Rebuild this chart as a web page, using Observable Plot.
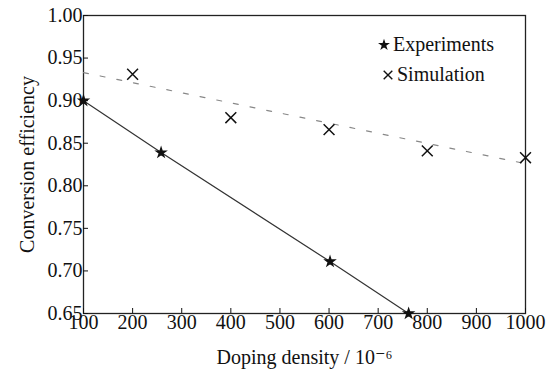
<!DOCTYPE html>
<html>
<head>
<meta charset="utf-8">
<script src="https://cdn.jsdelivr.net/npm/d3@7"></script>
<script src="https://cdn.jsdelivr.net/npm/@observablehq/plot@0.6"></script>
<style>
  html, body { margin: 0; padding: 0; background: #fff; }
  #wrap { position: relative; width: 547px; height: 376px; }
  #legend { position: absolute; left: 377px; top: 29px; font-family: "Liberation Serif", "DejaVu Serif", serif; font-size: 20px; color: #111; line-height: 30px; }
  #legend div { display: flex; align-items: center; }
  #legend svg { margin-right: 2px; }
</style>
</head>
<body>
<div id="wrap"><div id="chart"></div><div id="legend"></div></div>
<script>
// Data
const expX = [100, 258, 602, 762];
const expY = [0.900, 0.839, 0.711, 0.650];
const simX = [200, 400, 600, 800, 1000];
const simY = [0.931, 0.880, 0.866, 0.841, 0.833];
const fitX = [100, 1000];
const fitY = [0.933, 0.826];
const xTicks = [100, 200, 300, 400, 500, 600, 700, 800, 900, 1000];
const yTicks = [0.65, 0.70, 0.75, 0.80, 0.85, 0.90, 0.95, 1.00];

const experiments = expX.map((x, i) => ({x, y: expY[i]}));
const simulation = simX.map((x, i) => ({x, y: simY[i]}));
const fit = fitX.map((x, i) => ({x, y: fitY[i]}));

const plot = Plot.plot({
  width: 547,
  height: 376,
  marginLeft: 83,
  marginRight: 22,
  marginTop: 15,
  marginBottom: 63,
  style: {fontFamily: "'Liberation Serif', 'DejaVu Serif', serif", fontSize: "20px", color: "#111", background: "#fff"},
  x: {domain: [100, 1000]},
  y: {domain: [0.65, 1.00]},
  marks: [
    Plot.frame({stroke: "#222", strokeWidth: 1.3}),
    Plot.axisX({ticks: xTicks, tickFormat: d => String(d), tickSize: -5, tickPadding: 6,
      label: "Doping density / 10⁻⁶", labelAnchor: "center", labelArrow: "none", labelOffset: 50, fontSize: 20}),
    Plot.axisY({ticks: yTicks, tickFormat: d => d.toFixed(2), tickSize: -5, tickPadding: 6,
      label: "Conversion efficiency", labelAnchor: "center", labelArrow: "none", labelOffset: 64, fontSize: 20}),
    Plot.line(fit, {x: "x", y: "y", stroke: "#888", strokeWidth: 1.2, strokeDasharray: "5,12"}),
    Plot.line(experiments, {x: "x", y: "y", stroke: "#333", strokeWidth: 1.2}),
    Plot.dot(experiments, {x: "x", y: "y", symbol: "star", r: 2.8, fill: "#111", stroke: "#111"}),
    Plot.dot(simulation, {x: "x", y: "y", symbol: "times", r: 5, stroke: "#111", strokeWidth: 1.5})
  ]
});
document.getElementById("chart").appendChild(plot);

// Legend
const legendItems = [
  {label: "Experiments", symbol: d3.symbolStar, fill: "#111", stroke: "#111", size: 18},
  {label: "Simulation", symbol: d3.symbolTimes, fill: "none", stroke: "#111", size: 50}
];
const leg = document.getElementById("legend");
legendItems.forEach((it, i) => {
  const row = document.createElement("div");
  if (i === 1) row.style.marginLeft = "4px";
  const s = d3.create("svg").attr("width", 14).attr("height", 14);
  s.append("path").attr("transform", "translate(7,8)")
    .attr("d", d3.symbol(it.symbol, it.size)())
    .attr("fill", it.fill).attr("stroke", it.stroke).attr("stroke-width", 1.4);
  row.appendChild(s.node());
  const t = document.createElement("span");
  t.textContent = it.label;
  row.appendChild(t);
  leg.appendChild(row);
});
</script>
</body>
</html>
